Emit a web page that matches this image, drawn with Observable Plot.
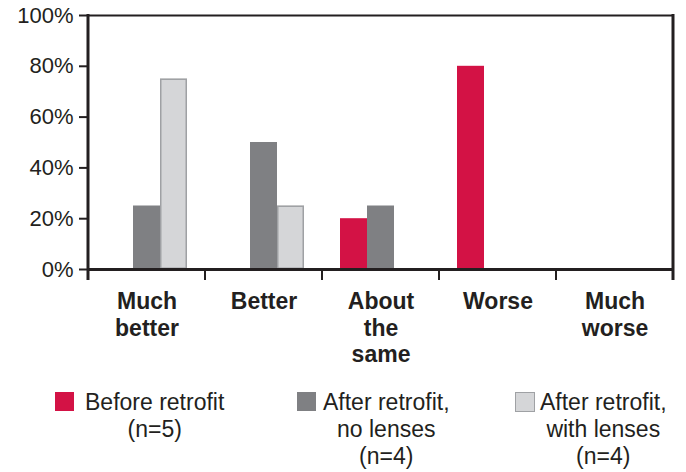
<!DOCTYPE html>
<html><head><meta charset="utf-8">
<script src="https://cdn.jsdelivr.net/npm/d3@7"></script>
<script src="https://cdn.jsdelivr.net/npm/@observablehq/plot@0.6"></script>
<style>
body{margin:0;background:#fff;}
#wrap{position:relative;width:686px;height:472px;font-family:"Liberation Sans",Arial,sans-serif;color:#231f20;background:#fff;}
.sw{position:absolute;width:19px;height:19px;box-sizing:border-box;}
.lt{position:absolute;font-size:23px;line-height:27px;text-align:center;white-space:pre;}
</style></head><body><div id="wrap"></div>
<script>
const categories = ["Much better", "Better", "About the same", "Worse", "Much worse"];
const catLabels = ["Much\nbetter", "Better", "About\nthe\nsame", "Worse", "Much\nworse"];
const series = ["Before retrofit", "After retrofit, no lenses", "After retrofit, with lenses"];
const legendLabels = ["Before retrofit\n(n=5)", "After retrofit,\nno lenses\n(n=4)", "After retrofit,\nwith lenses\n(n=4)"];
const before = [0, 0, 20, 80, 0];
const noLenses = [25, 50, 25, 0, 0];
const withLenses = [75, 25, 0, 0, 0];
const yTicks = [0, 20, 40, 60, 80, 100];
const colors = ["#d31245", "#7f8083", "#d5d6d8"];

const seriesValues = [before, noLenses, withLenses];
const data = categories.flatMap((c, i) => series.map((s, j) => ({cat: c, series: s, value: seriesValues[j][i]})));
const ink = "#231f20";

const plot = Plot.plot({
  width: 686, height: 380,
  marginLeft: 86, marginRight: 11, marginTop: 15, marginBottom: 111,
  style: {fontFamily: "Liberation Sans, Arial, sans-serif", fontSize: "22px", color: ink, background: "white"},
  fx: {domain: categories, padding: 0, label: null},
  x: {domain: series, paddingInner: 0, paddingOuter: 0.6, axis: null},
  y: {domain: [0, 100], label: null},
  color: {domain: series, range: colors},
  marks: [
    Plot.barY(data, {fx: "cat", x: "series", y: "value", fill: "series"}),
    Plot.barY(data.filter(d => d.value > 0 && d.series === series[2]), {fx: "cat", x: "series", y: "value", fill: "none", stroke: "#9fa1a4", strokeWidth: 1.5, inset: 0.75}),
    Plot.ruleY([100], {stroke: ink, strokeWidth: 2}),
    Plot.ruleY([0], {stroke: ink, strokeWidth: 3}),
    Plot.axisY({ticks: yTicks, tickFormat: d => d + "%", tickSize: 9, tickPadding: 6, fontSize: 22, strokeWidth: 2, stroke: ink, label: null}),
    Plot.axisFx({anchor: "bottom", tickSize: 0, tickPadding: 20, fontSize: 23, fontWeight: "bold", lineHeight: 1.17, tickFormat: d => catLabels[categories.indexOf(d)], label: null})
  ]
});

// frame sides and category boundary ticks, from the scales
const fx = plot.scale("fx"), ys = plot.scale("y");
const yTop = ys.apply(100), yBot = ys.apply(0);
const bounds = categories.map(c => fx.apply(c));
bounds.push(fx.apply(categories[categories.length - 1]) + fx.bandwidth);
const g = d3.select(plot).append("g").attr("stroke", ink);
bounds.forEach((bx, i) => {
  const edge = i === 0 || i === bounds.length - 1;
  g.append("line").attr("x1", bx).attr("x2", bx)
    .attr("y1", edge ? yTop - 1 : yBot).attr("y2", yBot + 11)
    .attr("stroke-width", edge ? 3 : 2);
});

const wrap = document.getElementById("wrap");
wrap.appendChild(plot);

// legend (HTML, below the SVG)
const swLeft = [55, 297, 515];
const txtLeft = [85, 323, 540];
series.forEach((s, i) => {
  const sw = document.createElement("div");
  sw.className = "sw";
  sw.style.left = swLeft[i] + "px";
  sw.style.top = "392px";
  sw.style.background = colors[i];
  if (i === 2) { sw.style.border = "1.5px solid #9fa1a4"; sw.style.width = "20px"; sw.style.height = "20px"; }
  wrap.appendChild(sw);
  const t = document.createElement("div");
  t.className = "lt";
  t.style.left = txtLeft[i] + "px";
  t.style.top = "389px";
  t.textContent = legendLabels[i];
  wrap.appendChild(t);
});
</script>
</body></html>
